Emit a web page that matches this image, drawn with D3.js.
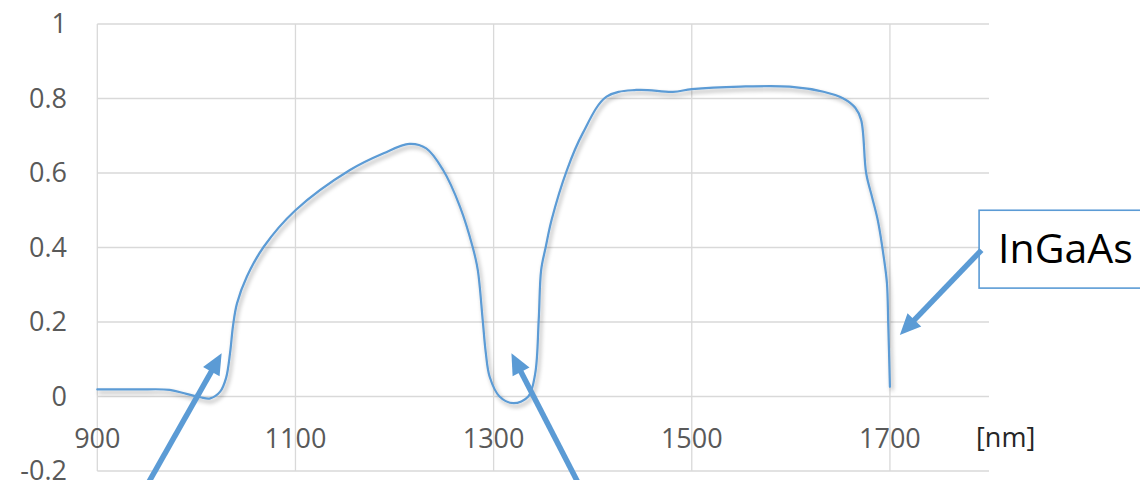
<!DOCTYPE html>
<html>
<head>
<meta charset="utf-8">
<script src="https://cdn.jsdelivr.net/npm/d3@7/dist/d3.min.js"></script>
<style>
  html, body { margin: 0; padding: 0; background: #fff; }
  svg { display: block; }
</style>
</head>
<body>
<svg id="chart" width="1140" height="480"></svg>
<script>
// ---- data ----
const wavelength = [900, 940, 973, 990, 1004, 1014, 1024, 1030, 1034, 1037, 1041, 1051, 1068, 1100, 1155, 1189, 1215, 1232, 1249, 1266, 1279, 1284, 1289, 1292, 1296, 1306, 1320, 1335, 1342, 1345.5, 1348, 1352.5, 1358.5, 1374, 1390, 1414, 1444, 1481, 1500, 1549, 1599, 1633, 1653, 1665, 1671, 1676, 1682, 1688, 1694, 1697, 1698.3, 1700];
const response   = [0.019, 0.019, 0.018, 0.007, -0.002, -0.005, 0.013, 0.05, 0.117, 0.19, 0.25, 0.322, 0.402, 0.50, 0.608, 0.653, 0.678, 0.666, 0.608, 0.51, 0.40, 0.34, 0.205, 0.12, 0.053, 0.0, -0.018, 0.0, 0.062, 0.205, 0.34, 0.40, 0.474, 0.608, 0.707, 0.805, 0.823, 0.818, 0.825, 0.832, 0.832, 0.818, 0.80, 0.775, 0.742, 0.60, 0.535, 0.47, 0.37, 0.304, 0.196, 0.026];
const xTicks = [900, 1100, 1300, 1500, 1700];
const yTicks = [-0.2, 0, 0.2, 0.4, 0.6, 0.8, 1];
const yTickLabels = ["-0.2", "0", "0.2", "0.4", "0.6", "0.8", "1"];
const unitLabel = "[nm]";
const calloutText = "InGaAs";
// annotation arrows in data units: [tailX, tailY, tipX, tipY]
const arrows = [
  [944.7, -0.264, 1025.5, 0.116],
  [1391.5, -0.264, 1318, 0.116],
  [1792.4, 0.393, 1710, 0.165]
];

const svg = d3.select("#chart");
const x = d3.scaleLinear().domain([900, 1800]).range([97.3, 989]);
const y = d3.scaleLinear().domain([-0.2, 1]).range([471, 24]);

const blue = "#5B9BD5";
const grid = "#D9D9D9";

const defs = svg.append("defs");
const f = defs.append("filter").attr("id", "shadow").attr("x", "-5%").attr("y", "-5%").attr("width", "110%").attr("height", "120%");
f.append("feDropShadow").attr("dx", 2).attr("dy", 3).attr("stdDeviation", 2.2)
  .attr("flood-color", "#000").attr("flood-opacity", 0.35);

// grid
svg.append("g").selectAll("line.h").data(yTicks).join("line")
  .attr("x1", x(900)).attr("x2", x(1800))
  .attr("y1", d => y(d)).attr("y2", d => y(d))
  .attr("stroke", grid).attr("stroke-width", 1.3);
svg.append("g").selectAll("line.v").data(xTicks).join("line")
  .attr("x1", d => x(d)).attr("x2", d => x(d))
  .attr("y1", y(1)).attr("y2", y(-0.2))
  .attr("stroke", grid).attr("stroke-width", 1.3);

// y tick labels
svg.append("g").selectAll("text").data(yTicks).join("text")
  .attr("x", 67).attr("y", d => y(d)).attr("dy", "0.35em")
  .attr("text-anchor", "end")
  .attr("font-family", "Open Sans, sans-serif").attr("font-size", 27)
  .attr("fill", "#595959")
  .text((d, i) => yTickLabels[i]);

// x tick labels
svg.append("g").selectAll("text").data(xTicks).join("text")
  .attr("x", d => x(d)).attr("y", y(0) + 51)
  .attr("text-anchor", "middle")
  .attr("font-family", "Open Sans, sans-serif").attr("font-size", 27)
  .attr("fill", "#595959")
  .text(d => d);

svg.append("text")
  .attr("x", 976).attr("y", y(0) + 50)
  .attr("font-family", "Open Sans, sans-serif").attr("font-size", 27)
  .attr("fill", "#262626")
  .text(unitLabel);

// curve
const pts = wavelength.map((w, i) => [w, response[i]]);
const line = d3.line().x(d => x(d[0])).y(d => y(d[1])).curve(d3.curveCatmullRom.alpha(0.5));
svg.append("path").datum(pts)
  .attr("d", line)
  .attr("fill", "none").attr("stroke", blue).attr("stroke-width", 2.2)
  .attr("stroke-linejoin", "round").attr("stroke-linecap", "round")
  .attr("filter", "url(#shadow)");

// callout box
svg.append("rect")
  .attr("x", x(1790)).attr("y", y(0.5))
  .attr("width", 200).attr("height", y(0.291) - y(0.5))
  .attr("fill", "#fff").attr("stroke", blue).attr("stroke-width", 1.6);
svg.append("text")
  .attr("x", x(1790) + 19).attr("y", y(0.5) + 53)
  .attr("font-family", "Open Sans, sans-serif").attr("font-size", 41)
  .attr("fill", "#000")
  .text(calloutText);

// arrows
const headLen = 21, headHalf = 9.5, shaftW = 5.5;
arrows.forEach(a => {
  const x0 = x(a[0]), y0 = y(a[1]), x1 = x(a[2]), y1 = y(a[3]);
  const dx = x1 - x0, dy = y1 - y0, L = Math.hypot(dx, dy);
  const ux = dx / L, uy = dy / L, nx = -uy, ny = ux;
  const bx = x1 - ux * headLen, by = y1 - uy * headLen;
  svg.append("line")
    .attr("x1", x0).attr("y1", y0).attr("x2", bx + ux * 2).attr("y2", by + uy * 2)
    .attr("stroke", blue).attr("stroke-width", shaftW);
  svg.append("path")
    .attr("d", `M${x1},${y1}L${bx + nx * headHalf},${by + ny * headHalf}L${bx - nx * headHalf},${by - ny * headHalf}Z`)
    .attr("fill", blue);
});
</script>
</body>
</html>
